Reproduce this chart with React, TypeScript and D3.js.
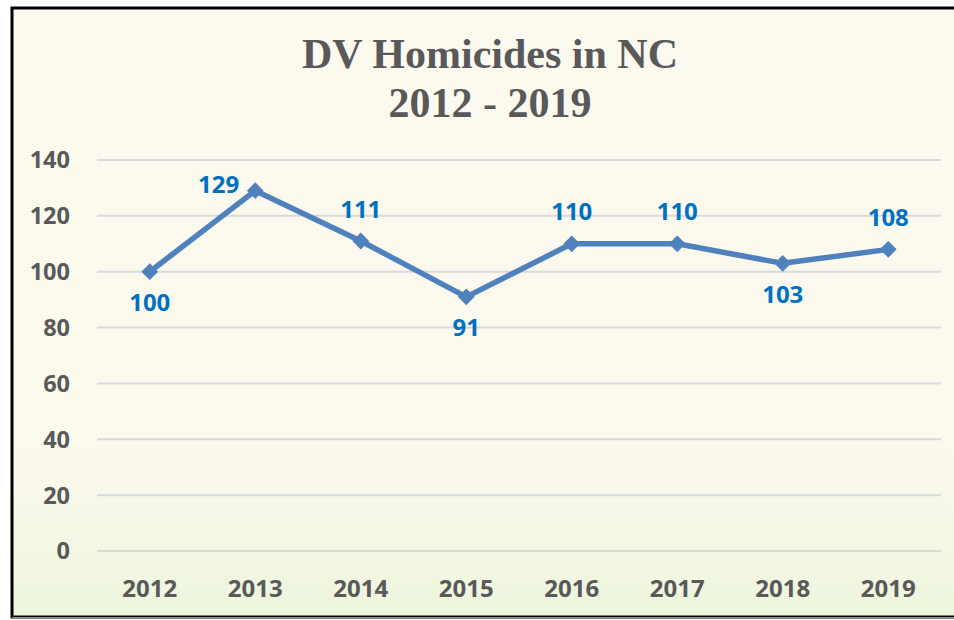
import React from "react";
import * as d3 from "d3";

const years = ["2012", "2013", "2014", "2015", "2016", "2017", "2018", "2019"];
const homicides = [100, 129, 111, 91, 110, 110, 103, 108];
const labelPlacement = ["below", "left", "above", "below", "above", "above", "below", "above"];
const yTicks = [0, 20, 40, 60, 80, 100, 120, 140];
const titleLines = ["DV Homicides in NC", "2012 - 2019"];

const W = 954;
const H = 620;

export default function App() {
  const x = d3.scalePoint<string>().domain(years).range([97, 941]).padding(0.5);
  const y = d3.scaleLinear().domain([0, 140]).range([551, 160]);
  const line = d3
    .line<number>()
    .x((_, i) => x(years[i]) as number)
    .y((d) => y(d));
  const diamond = d3.symbol().type(d3.symbolDiamond2).size(180)();
  const labelFont = "'Open Sans', Lato, sans-serif";

  return (
    <svg width={W} height={H} style={{ position: "absolute", left: 0, top: 0 }}>
      <defs>
        <linearGradient id="bg" x1="0" y1="0" x2="0" y2="1">
          <stop offset="0" stopColor="#FCF9EF" />
          <stop offset="0.75" stopColor="#FBF9EE" />
          <stop offset="1" stopColor="#EDF5DC" />
        </linearGradient>
      </defs>
      <rect x={0} y={0} width={W} height={H} fill="#ffffff" />
      <rect x={12} y={8} width={W + 10} height={609} fill="url(#bg)" stroke="#000" strokeWidth={3} />
      <line x1={12} x2={W} y1={618} y2={618} stroke="#8c8c8c" strokeWidth={2} />
      {titleLines.map((t, i) => (
        <text
          key={t}
          x={490}
          y={68 + i * 49}
          textAnchor="middle"
          fontFamily="'Liberation Serif', 'Times New Roman', serif"
          fontWeight="bold"
          fontSize={42}
          fill="#595959"
        >
          {t}
        </text>
      ))}
      {yTicks.map((t) => (
        <g key={t}>
          <line x1={97} x2={941} y1={y(t)} y2={y(t)} stroke="#D9D9D9" strokeWidth={2} />
          <text
            x={70}
            y={y(t)}
            dy="0.36em"
            textAnchor="end"
            fontFamily={labelFont}
            fontWeight="bold"
            fontSize={23.5}
            fill="#595959"
          >
            {t}
          </text>
        </g>
      ))}
      {years.map((yr) => (
        <text
          key={yr}
          x={x(yr)}
          y={588}
          dy="0.36em"
          textAnchor="middle"
          fontFamily={labelFont}
          fontWeight="bold"
          fontSize={24}
          fill="#595959"
        >
          {yr}
        </text>
      ))}
      <path d={line(homicides) || ""} fill="none" stroke="#4F81BD" strokeWidth={5.5} strokeLinejoin="round" />
      {homicides.map((v, i) => (
        <path key={i} d={diamond || ""} transform={`translate(${x(years[i])},${y(v)})`} fill="#4F81BD" />
      ))}
      {homicides.map((v, i) => {
        const px = x(years[i]) as number;
        const py = y(v);
        const p = labelPlacement[i];
        let lx = px;
        let ly = py;
        let anchor = "middle";
        if (p === "below") ly = py + 31;
        else if (p === "above") ly = py - 32;
        else {
          lx = px - 16;
          ly = py - 6;
          anchor = "end";
        }
        return (
          <text
            key={i}
            x={lx}
            y={ly}
            dy="0.36em"
            textAnchor={anchor}
            fontFamily={labelFont}
            fontWeight="bold"
            fontSize={24}
            fill="#0070C0"
          >
            {v}
          </text>
        );
      })}
    </svg>
  );
}
